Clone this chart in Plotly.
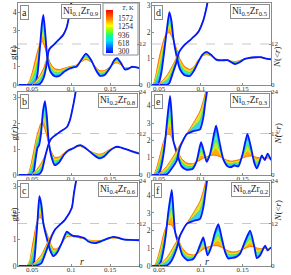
import plotly.graph_objects as go

# ---------------- data ----------------
TEMPS = [1572, 1254, 936, 618, 300]

R_A = [0.033, 0.043, 0.047, 0.051, 0.054, 0.057, 0.060, 0.0625, 0.0645, 0.067, 0.070, 0.074, 0.079, 0.085, 0.091, 0.097, 0.103, 0.107, 0.112, 0.119, 0.126, 0.132, 0.137, 0.143, 0.150, 0.156, 0.159, 0.164, 0.169, 0.174, 0.178, 0.182, 0.187]
G_A_300 = [0, 0, 0, 0, 0.05, 0.6, 2.0, 3.3, 3.85, 2.8, 1.3, 0.7, 0.48, 0.5, 0.72, 0.88, 0.97, 1.0, 1.3, 1.72, 1.35, 0.8, 0.5, 0.55, 0.95, 1.4, 1.47, 1.2, 0.85, 0.9, 1.0, 0.98, 0.93]
G_A_618 = [0, 0.01, 0.06, 0.2, 0.38, 0.91, 2.06, 3.07, 3.46, 2.6, 1.38, 0.81, 0.59, 0.59, 0.77, 0.91, 0.99, 1.03, 1.29, 1.64, 1.33, 0.84, 0.57, 0.61, 0.96, 1.35, 1.41, 1.18, 0.88, 0.91, 1.0, 0.98, 0.94]
G_A_936 = [0, 0.01, 0.13, 0.4, 0.7, 1.23, 2.13, 2.84, 3.08, 2.4, 1.45, 0.93, 0.69, 0.68, 0.82, 0.94, 1.01, 1.05, 1.28, 1.56, 1.3, 0.88, 0.64, 0.68, 0.98, 1.3, 1.35, 1.15, 0.9, 0.93, 1.0, 0.98, 0.94]
G_A_1254 = [0, 0.02, 0.19, 0.6, 1.03, 1.54, 2.19, 2.61, 2.69, 2.2, 1.53, 1.04, 0.8, 0.76, 0.87, 0.97, 1.03, 1.08, 1.26, 1.48, 1.28, 0.91, 0.71, 0.74, 0.99, 1.25, 1.28, 1.13, 0.93, 0.94, 1.0, 0.98, 0.95]
G_A_1572 = [0, 0.02, 0.25, 0.8, 1.35, 1.85, 2.25, 2.38, 2.3, 2.0, 1.6, 1.15, 0.9, 0.85, 0.92, 1.0, 1.05, 1.1, 1.25, 1.4, 1.25, 0.95, 0.78, 0.8, 1.0, 1.2, 1.22, 1.1, 0.95, 0.95, 1.0, 0.98, 0.95]

R_B = [0.033, 0.043, 0.046, 0.050, 0.052, 0.055, 0.057, 0.059, 0.0615, 0.064, 0.0665, 0.069, 0.071, 0.074, 0.079, 0.085, 0.091, 0.097, 0.103, 0.108, 0.112, 0.118, 0.124, 0.130, 0.136, 0.142, 0.149, 0.155, 0.159, 0.165, 0.172, 0.179, 0.187]
G_B_300 = [0, 0, 0, 0, 0.1, 0.7, 1.05, 1.15, 1.6, 2.45, 2.85, 2.25, 1.4, 0.8, 0.38, 0.5, 0.78, 0.95, 1.03, 1.12, 1.15, 1.05, 0.9, 0.75, 0.64, 0.7, 0.92, 1.05, 1.09, 1.05, 0.98, 0.9, 0.82]
G_B_618 = [0, 0, 0.03, 0.15, 0.3, 0.86, 1.19, 1.31, 1.7, 2.33, 2.58, 2.06, 1.36, 0.84, 0.46, 0.55, 0.8, 0.96, 1.04, 1.12, 1.14, 1.04, 0.91, 0.78, 0.68, 0.74, 0.94, 1.05, 1.09, 1.05, 0.98, 0.91, 0.83]
G_B_936 = [0, 0, 0.05, 0.3, 0.5, 1.03, 1.33, 1.48, 1.8, 2.2, 2.3, 1.88, 1.33, 0.88, 0.53, 0.6, 0.82, 0.97, 1.04, 1.11, 1.13, 1.04, 0.91, 0.8, 0.72, 0.78, 0.95, 1.05, 1.08, 1.05, 0.98, 0.91, 0.84]
G_B_1254 = [0, 0, 0.08, 0.45, 0.7, 1.19, 1.46, 1.64, 1.9, 2.08, 2.03, 1.69, 1.29, 0.91, 0.61, 0.65, 0.83, 0.97, 1.05, 1.11, 1.11, 1.03, 0.92, 0.83, 0.76, 0.81, 0.97, 1.05, 1.08, 1.05, 0.98, 0.92, 0.85]
G_B_1572 = [0, 0, 0.1, 0.6, 0.9, 1.35, 1.6, 1.8, 2.0, 1.95, 1.75, 1.5, 1.25, 0.95, 0.68, 0.7, 0.85, 0.98, 1.05, 1.1, 1.1, 1.02, 0.92, 0.85, 0.8, 0.85, 0.98, 1.05, 1.07, 1.05, 0.98, 0.92, 0.86]

R_C = [0.033, 0.043, 0.047, 0.050, 0.0525, 0.055, 0.057, 0.0594, 0.062, 0.0645, 0.0688, 0.073, 0.0773, 0.082, 0.088, 0.0945, 0.099, 0.103, 0.108, 0.1115, 0.117, 0.122, 0.131, 0.140, 0.148, 0.154, 0.160, 0.167, 0.175, 0.187]
G_C_300 = [0, 0, 0, 0, 0.15, 0.9, 1.7, 2.63, 2.3, 1.6, 1.05, 0.6, 0.37, 0.5, 0.86, 1.29, 1.2, 1.13, 1.12, 1.1, 1.05, 0.92, 0.86, 0.95, 1.05, 1.1, 1.07, 1.0, 0.98, 0.97]
G_C_618 = [0, 0, 0.05, 0.18, 0.39, 1.05, 1.7, 2.43, 2.18, 1.6, 1.1, 0.68, 0.44, 0.54, 0.86, 1.24, 1.18, 1.12, 1.11, 1.09, 1.04, 0.94, 0.88, 0.96, 1.04, 1.09, 1.06, 1.0, 0.98, 0.97]
G_C_936 = [0, 0, 0.1, 0.35, 0.63, 1.2, 1.7, 2.23, 2.05, 1.6, 1.15, 0.75, 0.51, 0.58, 0.86, 1.2, 1.16, 1.12, 1.1, 1.08, 1.04, 0.95, 0.91, 0.96, 1.04, 1.08, 1.06, 1.0, 0.99, 0.98]
G_C_1254 = [0, 0, 0.15, 0.53, 0.86, 1.35, 1.7, 2.02, 1.93, 1.6, 1.2, 0.83, 0.58, 0.61, 0.85, 1.15, 1.14, 1.11, 1.09, 1.06, 1.03, 0.97, 0.93, 0.97, 1.03, 1.06, 1.05, 1.0, 0.99, 0.98]
G_C_1572 = [0, 0, 0.2, 0.7, 1.1, 1.5, 1.7, 1.82, 1.8, 1.6, 1.25, 0.9, 0.65, 0.65, 0.85, 1.1, 1.12, 1.1, 1.08, 1.05, 1.02, 0.98, 0.95, 0.97, 1.02, 1.05, 1.04, 1.0, 0.99, 0.98]

R_D = [0.042, 0.044, 0.047, 0.050, 0.053, 0.056, 0.059, 0.0624, 0.065, 0.067, 0.0712, 0.075, 0.080, 0.087, 0.092, 0.097, 0.102, 0.107, 0.112, 0.119, 0.125, 0.132, 0.137, 0.141, 0.146, 0.152, 0.157, 0.165, 0.172, 0.178, 0.184]
G_D_300 = [0, 0, 0, 0.1, 0.5, 1.2, 2.0, 2.75, 2.4, 1.8, 1.06, 0.6, 0.38, 0.34, 0.55, 0.87, 1.15, 1.25, 1.15, 0.95, 0.93, 0.94, 0.85, 0.79, 0.85, 0.98, 1.02, 1.05, 1.05, 1.0, 0.97]
G_D_618 = [0, 0.03, 0.13, 0.33, 0.73, 1.34, 1.99, 2.56, 2.26, 1.78, 1.13, 0.7, 0.47, 0.4, 0.59, 0.89, 1.14, 1.23, 1.14, 0.96, 0.94, 0.94, 0.86, 0.81, 0.87, 0.98, 1.02, 1.05, 1.05, 1.0, 0.97]
G_D_936 = [0, 0.05, 0.25, 0.55, 0.95, 1.48, 1.98, 2.37, 2.13, 1.75, 1.21, 0.79, 0.55, 0.47, 0.63, 0.91, 1.13, 1.2, 1.13, 0.97, 0.94, 0.95, 0.88, 0.84, 0.89, 0.98, 1.02, 1.04, 1.04, 1.0, 0.97]
G_D_1254 = [0, 0.08, 0.38, 0.78, 1.18, 1.61, 1.96, 2.17, 1.99, 1.73, 1.28, 0.89, 0.64, 0.53, 0.66, 0.93, 1.11, 1.18, 1.11, 0.97, 0.95, 0.95, 0.89, 0.86, 0.9, 0.98, 1.02, 1.04, 1.04, 1.0, 0.97]
G_D_1572 = [0, 0.1, 0.5, 1.0, 1.4, 1.75, 1.95, 1.98, 1.85, 1.7, 1.35, 0.98, 0.72, 0.59, 0.7, 0.95, 1.1, 1.15, 1.1, 0.98, 0.95, 0.95, 0.9, 0.88, 0.92, 0.98, 1.02, 1.03, 1.03, 1.0, 0.97]

R_E = [0.042, 0.044, 0.047, 0.051, 0.054, 0.057, 0.060, 0.0632, 0.065, 0.0671, 0.0704, 0.073, 0.077, 0.083, 0.090, 0.095, 0.1003, 0.104, 0.107, 0.111, 0.1155, 0.1183, 0.122, 0.127, 0.132, 0.136, 0.140, 0.145, 0.150, 0.1558, 0.160, 0.164, 0.167, 0.170, 0.173, 0.1765, 0.180, 0.184]
G_E_300 = [0, 0, 0, 0.2, 0.8, 1.8, 3.3, 4.57, 3.6, 2.0, 1.4, 1.0, 0.5, 0.3, 0.35, 0.8, 1.9, 1.3, 0.76, 1.2, 2.3, 2.86, 2.0, 0.9, 0.5, 0.45, 0.55, 0.5, 1.2, 2.38, 1.6, 0.7, 0.38, 0.7, 1.14, 0.86, 1.24, 0.86]
G_E_618 = [0, 0.01, 0.1, 0.43, 1.03, 1.89, 3.06, 4.02, 3.25, 1.99, 1.45, 1.08, 0.61, 0.4, 0.43, 0.79, 1.65, 1.23, 0.83, 1.18, 2.01, 2.43, 1.77, 0.91, 0.59, 0.54, 0.62, 0.6, 1.15, 2.06, 1.48, 0.79, 0.54, 0.78, 1.11, 0.89, 1.18, 0.89]
G_E_936 = [0, 0.03, 0.2, 0.65, 1.25, 1.98, 2.83, 3.46, 2.9, 1.98, 1.5, 1.15, 0.73, 0.5, 0.5, 0.78, 1.4, 1.15, 0.91, 1.16, 1.73, 2.0, 1.54, 0.93, 0.68, 0.63, 0.69, 0.69, 1.09, 1.73, 1.35, 0.89, 0.7, 0.85, 1.07, 0.92, 1.11, 0.92]
G_E_1254 = [0, 0.04, 0.3, 0.88, 1.48, 2.06, 2.59, 2.9, 2.55, 1.96, 1.55, 1.23, 0.84, 0.6, 0.58, 0.76, 1.15, 1.08, 0.98, 1.14, 1.44, 1.56, 1.31, 0.94, 0.76, 0.71, 0.75, 0.79, 1.04, 1.41, 1.23, 0.98, 0.86, 0.93, 1.04, 0.95, 1.05, 0.94]
G_E_1572 = [0, 0.05, 0.4, 1.1, 1.7, 2.15, 2.35, 2.35, 2.2, 1.95, 1.6, 1.3, 0.95, 0.7, 0.65, 0.75, 0.9, 1.0, 1.05, 1.12, 1.15, 1.13, 1.08, 0.95, 0.85, 0.8, 0.82, 0.88, 0.98, 1.08, 1.1, 1.07, 1.02, 1.0, 1.0, 0.98, 0.98, 0.97]

R_F = [0.042, 0.045, 0.048, 0.052, 0.055, 0.058, 0.061, 0.0652, 0.067, 0.069, 0.071, 0.074, 0.078, 0.084, 0.091, 0.096, 0.100, 0.103, 0.106, 0.108, 0.112, 0.117, 0.121, 0.125, 0.129, 0.133, 0.137, 0.142, 0.147, 0.153, 0.159, 0.164, 0.167, 0.171, 0.175, 0.177, 0.180, 0.184]
G_F_300 = [0, 0, 0, 0.2, 0.8, 1.7, 3.0, 4.3, 3.3, 2.0, 1.6, 1.2, 0.6, 0.32, 0.4, 0.8, 1.3, 1.62, 1.0, 0.6, 1.0, 1.9, 2.36, 1.6, 0.8, 0.42, 0.45, 0.5, 0.7, 1.4, 1.99, 1.1, 0.45, 0.6, 1.0, 1.15, 0.88, 1.06]
G_F_618 = [0, 0.01, 0.1, 0.43, 1.03, 1.81, 2.84, 3.8, 3.01, 1.99, 1.64, 1.25, 0.7, 0.42, 0.46, 0.78, 1.19, 1.45, 1.01, 0.72, 1.03, 1.71, 2.05, 1.46, 0.84, 0.53, 0.54, 0.58, 0.75, 1.3, 1.77, 1.1, 0.59, 0.7, 1.0, 1.11, 0.91, 1.04]
G_F_936 = [0, 0.03, 0.2, 0.65, 1.25, 1.93, 2.68, 3.3, 2.73, 1.98, 1.68, 1.3, 0.8, 0.51, 0.51, 0.75, 1.08, 1.29, 1.01, 0.84, 1.06, 1.53, 1.75, 1.33, 0.88, 0.64, 0.63, 0.65, 0.79, 1.2, 1.55, 1.09, 0.74, 0.79, 0.99, 1.07, 0.93, 1.03]
G_F_1254 = [0, 0.04, 0.3, 0.88, 1.48, 2.04, 2.51, 2.8, 2.44, 1.96, 1.71, 1.35, 0.9, 0.61, 0.57, 0.73, 0.96, 1.12, 1.02, 0.95, 1.09, 1.34, 1.44, 1.19, 0.91, 0.74, 0.71, 0.73, 0.84, 1.1, 1.32, 1.09, 0.88, 0.89, 0.99, 1.02, 0.96, 1.01]
G_F_1572 = [0, 0.05, 0.4, 1.1, 1.7, 2.15, 2.35, 2.3, 2.15, 1.95, 1.75, 1.4, 1.0, 0.7, 0.62, 0.7, 0.85, 0.95, 1.02, 1.07, 1.12, 1.15, 1.13, 1.05, 0.95, 0.85, 0.8, 0.8, 0.88, 1.0, 1.1, 1.08, 1.02, 0.98, 0.98, 0.98, 0.98, 0.99]

# cumulative coordination number N(<r) at 300, 936 and 1572 K
NR_A = [0.043, 0.05, 0.055, 0.06, 0.065, 0.069, 0.0713, 0.074, 0.077, 0.0834, 0.0898, 0.094, 0.097, 0.1003, 0.102]
N_A_300 = [0, 0, 0, 0.3, 2.2, 6.4, 10.1, 11.0, 11.6, 13.1, 14.6, 16.6, 19.5, 23.9, 26.5]
N_A_936 = [0, 0.15, 0.6, 1.55, 3.6, 7.1, 9.85, 10.95, 11.65, 13.1, 14.7, 16.75, 19.65, 24.1, 26.75]
N_A_1572 = [0, 0.3, 1.2, 2.8, 5.0, 7.8, 9.6, 10.9, 11.7, 13.1, 14.8, 16.9, 19.8, 24.3, 27]

NR_B = [0.043, 0.05, 0.055, 0.06, 0.0628, 0.0667, 0.070, 0.0731, 0.0773, 0.0859, 0.0945, 0.0987, 0.103, 0.1064, 0.108]
N_B_300 = [0, 0, 0, 0.4, 1.4, 5.2, 8.0, 10.1, 11.1, 12.5, 13.8, 16.0, 20.4, 24.7, 26.5]
N_B_936 = [0, 0.2, 0.65, 1.6, 2.6, 5.45, 7.85, 9.85, 11.05, 12.5, 13.85, 16.1, 20.55, 24.85, 26.75]
N_B_1572 = [0, 0.4, 1.3, 2.8, 3.8, 5.7, 7.7, 9.6, 11.0, 12.5, 13.9, 16.2, 20.7, 25, 27]

NR_C = [0.043, 0.05, 0.055, 0.06, 0.0624, 0.0688, 0.0752, 0.0796, 0.0923, 0.1009, 0.1037, 0.1064, 0.108]
N_C_300 = [0, 0, 0.1, 0.5, 0.9, 4.6, 8.4, 10.3, 13.1, 16.4, 20.6, 24.0, 26]
N_C_936 = [0, 0.25, 0.7, 1.55, 2.1, 5.4, 8.65, 10.35, 13.15, 16.5, 20.75, 24.15, 26]
N_C_1572 = [0, 0.5, 1.3, 2.6, 3.3, 6.2, 8.9, 10.4, 13.2, 16.6, 20.9, 24.3, 26]

NR_D = [0.042, 0.05, 0.055, 0.06, 0.0624, 0.0664, 0.0704, 0.0743, 0.080, 0.087, 0.092, 0.097, 0.103, 0.107, 0.109]
N_D_300 = [0, 0, 0, 0.1, 0.6, 3.4, 6.3, 9.75, 11.6, 13.1, 14.2, 15.5, 18.9, 22.8, 25.5]
N_D_936 = [0, 0.25, 0.75, 1.55, 2.3, 4.6, 7.05, 9.83, 11.6, 13.1, 14.25, 15.65, 19.05, 23.05, 25.75]
N_D_1572 = [0, 0.5, 1.5, 3.0, 4.0, 5.8, 7.8, 9.9, 11.6, 13.1, 14.3, 15.8, 19.2, 23.3, 26]

NR_E = [0.042, 0.05, 0.055, 0.06, 0.065, 0.0712, 0.0751, 0.0832, 0.0911, 0.0991, 0.103, 0.1051, 0.108]
N_E_300 = [0, 0, 0, 0.3, 1.8, 4.2, 8.0, 11.8, 12.7, 13.2, 16.6, 20.4, 25]
N_E_936 = [0, 0.25, 0.7, 1.55, 3.2, 5.6, 8.4, 11.9, 13.85, 15.85, 19.05, 21.95, 25.5]
N_E_1572 = [0, 0.5, 1.4, 2.8, 4.6, 7.0, 8.8, 12.0, 15.0, 18.5, 21.5, 23.5, 26]

NR_F = [0.042, 0.05, 0.055, 0.06, 0.065, 0.0712, 0.0751, 0.0832, 0.0911, 0.0991, 0.103, 0.1051, 0.108]
N_F_300 = [0, 0, 0, 0.2, 1.5, 5.0, 8.5, 11.9, 12.7, 13.3, 16.5, 20.0, 25]
N_F_936 = [0, 0.2, 0.65, 1.4, 3.0, 6.0, 8.65, 11.95, 13.85, 15.8, 18.85, 21.6, 25.5]
N_F_1572 = [0, 0.4, 1.3, 2.6, 4.5, 7.0, 8.8, 12.0, 15.0, 18.3, 21.2, 23.2, 26]

LABELS = ["a", "b", "c", "d", "e", "f"]
COMPS = [("0.1", "0.9"), ("0.2", "0.8"), ("0.4", "0.6"), ("0.5", "0.5"), ("0.7", "0.3"), ("0.8", "0.2")]
G_MAX = [4.5, 3.2, 3.2, 3.1, 4.8, 4.8]
G_TICKS = [[0, 1, 2, 3, 4], [0, 1, 2, 3], [0, 1, 2, 3], [0, 1, 2, 3], [0, 1, 2, 3, 4], [0, 1, 2, 3, 4]]
N_TICKS = [0, 12, 24]
R_TICKS = [0.05, 0.1, 0.15]
R_TICKTEXT = ["0.05", "0.1", "0.15"]
CBAR_TICKS = [300, 618, 936, 1254, 1572]
CBAR_RAMP = list(range(250, 1901, 25))

G_DATA = [(R_A, [G_A_1572, G_A_1254, G_A_936, G_A_618, G_A_300]),
          (R_B, [G_B_1572, G_B_1254, G_B_936, G_B_618, G_B_300]),
          (R_C, [G_C_1572, G_C_1254, G_C_936, G_C_618, G_C_300]),
          (R_D, [G_D_1572, G_D_1254, G_D_936, G_D_618, G_D_300]),
          (R_E, [G_E_1572, G_E_1254, G_E_936, G_E_618, G_E_300]),
          (R_F, [G_F_1572, G_F_1254, G_F_936, G_F_618, G_F_300])]
N_DATA = [(NR_A, [N_A_1572, N_A_936, N_A_300]), (NR_B, [N_B_1572, N_B_936, N_B_300]),
          (NR_C, [N_C_1572, N_C_936, N_C_300]), (NR_D, [N_D_1572, N_D_936, N_D_300]),
          (NR_E, [N_E_1572, N_E_936, N_E_300]), (NR_F, [N_F_1572, N_F_936, N_F_300])]

# ---------------- styling / geometry ----------------
W, H = 291, 275
FONT = "Liberation Serif"
AX = "#8c8c8c"
TXT = "#222"
COL_X = [(18, 139), (152, 271)]
ROW_Y = [(3, 85), (92, 175), (181, 266)]
X_RANGES = [[0.032, 0.187], [0.0416, 0.184]]
JET = [[0, "#0000ff"], [0.16, "#0080ff"], [0.3, "#00e0ff"], [0.42, "#10ff80"], [0.55, "#a0ff00"],
       [0.64, "#ffff00"], [0.8, "#ff8000"], [1, "#ff0000"]]
G_LINE = ["#ff6a00", "#ffd400", "#34dc34", "#00ccff", "#0418ff"]
G_FILL = [None, "#ffaa10", "#b8f030", "#50ecc0", "#30a8ff"]
G_WIDTH = [1.0, 0.8, 0.8, 0.8, 1.8]
N_LINE = ["#ff7000", "#3cdc3c", "#0418ff"]
N_FILL = [None, "#d8e830", "#40cff0"]
N_WIDTH = [1.0, 0.8, 1.8]


def fx(p):
    return p / W


def fy(p):
    return 1 - p / H


fig = go.Figure()
layout = dict(template="none", width=W, height=H, autosize=False, margin=dict(l=0, r=0, t=0, b=0, pad=0),
              paper_bgcolor="white", plot_bgcolor="white",
              font=dict(family=FONT, size=8, color="#333"), showlegend=False)
annotations = []
shapes = []

for i in range(6):
    col, row = i // 3, i % 3
    x0, x1 = COL_X[col]
    y0, y1 = ROW_Y[row]
    xa = "x" if i == 0 else f"x{i+1}"
    ya = "y" if i == 0 else f"y{i+1}"
    na = f"y{i+7}"
    layout["xaxis" if i == 0 else f"xaxis{i+1}"] = dict(
        domain=[fx(x0), fx(x1)], anchor=ya, range=X_RANGES[col], automargin=False,
        tickvals=R_TICKS, ticktext=R_TICKTEXT,
        showline=True, linecolor=AX, linewidth=1, mirror=True,
        ticks="inside", ticklen=2, tickcolor=AX, showgrid=False, zeroline=False,
        tickfont=dict(size=7, color="#333"), ticklabelstandoff=-3)
    layout["yaxis" if i == 0 else f"yaxis{i+1}"] = dict(
        domain=[fy(y1), fy(y0)], anchor=xa, range=[0, G_MAX[i]], automargin=False,
        tickvals=G_TICKS[i], showline=True, linecolor=AX, linewidth=1, mirror=True,
        ticks="inside", ticklen=2, tickcolor=AX, showgrid=False, zeroline=False,
        tickfont=dict(size=7.5, color="#333"), ticklabelstandoff=-1)
    layout[f"yaxis{i+7}"] = dict(
        overlaying=ya, anchor=xa, side="right", range=[0, 24], automargin=False,
        tickvals=N_TICKS, showline=False, ticks="inside", ticklen=2, tickcolor=AX,
        showgrid=False, zeroline=False, tickfont=dict(size=7, color="#333"), ticklabelstandoff=-1)

    r, series = G_DATA[i]
    for k, g in enumerate(series):
        fig.add_trace(go.Scatter(
            x=r, y=g, xaxis=xa, yaxis=ya, mode="lines",
            fill=None if k == 0 else "tonexty", fillcolor=G_FILL[k],
            line=dict(color=G_LINE[k], width=G_WIDTH[k], shape="spline", smoothing=0.6),
            hoverinfo="skip"))
    nr, nser = N_DATA[i]
    for k, n in enumerate(nser):
        fig.add_trace(go.Scatter(
            x=nr, y=n, xaxis=xa, yaxis=na, mode="lines",
            fill=None if k == 0 else "tonexty", fillcolor=N_FILL[k],
            line=dict(color=N_LINE[k], width=N_WIDTH[k], shape="spline", smoothing=0.6),
            hoverinfo="skip"))

    shapes.append(dict(type="line", xref=f"{xa} domain", yref=na, x0=0, x1=1, y0=12, y1=12,
                       line=dict(color="#c8c8c8", width=1, dash="dash"), layer="below"))

    annotations.append(dict(text=LABELS[i], xref="paper", yref="paper", x=fx(x0 + 2), y=fy(y0 + 2),
                            xanchor="left", yanchor="top", showarrow=False,
                            font=dict(size=10, color=TXT), bgcolor="white",
                            bordercolor=AX, borderwidth=1, borderpad=1))
    ni, zr = COMPS[i]
    comp_x = fx(101) if i == 0 else fx(x1 - 1)
    annotations.append(dict(text=f"Ni<sub>{ni}</sub>Zr<sub>{zr}</sub>", xref="paper", yref="paper",
                            x=comp_x, y=fy(y0 + 1), xanchor="right", yanchor="top", showarrow=False,
                            font=dict(size=9.5, color=TXT), bgcolor="white",
                            bordercolor=AX, borderwidth=1, borderpad=1))
    if col == 0:
        annotations.append(dict(text="g(<i>r</i>)", xref="paper", yref="paper", x=fx(6),
                                y=fy((y0 + y1) / 2), textangle=-90, showarrow=False,
                                font=dict(size=9, color=TXT)))
    else:
        annotations.append(dict(text="<i>N</i>(&lt;<i>r</i>)", xref="paper", yref="paper", x=fx(284),
                                y=fy((y0 + y1) / 2), textangle=-90, showarrow=False,
                                font=dict(size=9, color=TXT)))
    if row == 2:
        annotations.append(dict(text="<i>r</i>", xref="paper", yref="paper",
                                x=fx(x0 + 60) if col == 0 else fx(x0 + 59),
                                y=fy(269), showarrow=False, font=dict(size=10, color=TXT)))

# ----- temperature colour bar (drawn as a tiny heat-map with its own axes) -----
shapes.append(dict(type="rect", xref="paper", yref="paper", x0=fx(103), x1=fx(138), y0=fy(55), y1=fy(3),
                   fillcolor="white", line=dict(color=AX, width=1), layer="below"))
layout["xaxis13"] = dict(domain=[fx(106), fx(113)], anchor="y13", visible=False, range=[-0.5, 0.5],
                         automargin=False, fixedrange=True)
layout["yaxis13"] = dict(domain=[fy(53), fy(10)], anchor="x13", visible=False,
                         range=[CBAR_RAMP[0], CBAR_RAMP[-1]], automargin=False, fixedrange=True)
fig.add_trace(go.Heatmap(x=[0], y=CBAR_RAMP, z=[[t] for t in CBAR_RAMP], xaxis="x13", yaxis="y13",
                         colorscale=JET, zmin=CBAR_RAMP[0], zmax=CBAR_RAMP[-1], showscale=False,
                         hoverinfo="skip"))
for t in CBAR_TICKS:
    annotations.append(dict(text=str(t), xref="paper", yref="y13", x=fx(116), y=t, xanchor="left",
                            yanchor="middle", showarrow=False, font=dict(size=7.5, color=TXT)))
annotations.append(dict(text="<i>T</i>, K", xref="paper", yref="paper", x=fx(128), y=fy(7),
                        xanchor="center", yanchor="middle", showarrow=False, font=dict(size=6.5, color=TXT)))

layout["annotations"] = annotations
layout["shapes"] = shapes
fig.update_layout(**layout)
fig.write_html("out.html", config={"displayModeBar": False},
               post_script="document.body.style.margin='0';document.body.style.overflow='hidden';")
